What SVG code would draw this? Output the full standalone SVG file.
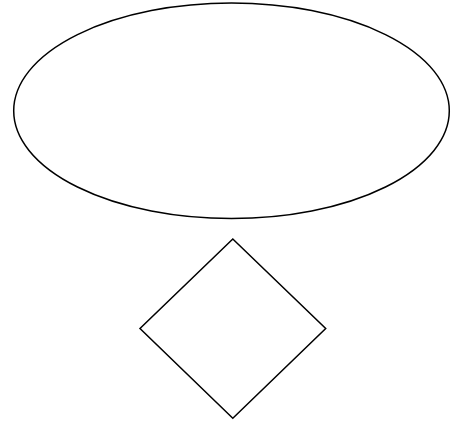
<svg xmlns="http://www.w3.org/2000/svg" width="460" height="423" viewBox="0 0 460 423">
<style>
.shape{fill:#ffffff;stroke:#000000;stroke-width:1.5}
</style>
<rect width="460" height="423" fill="#ffffff"/>
<g id="node-ellipse">
<ellipse class="shape" cx="231.5" cy="110.8" rx="217.8" ry="107.8"/>
</g>
<g id="node-diamond">
<polygon class="shape" points="232.8,239 325.7,328.5 232.8,418.3 140,328.5"/>
</g>
<g id="connectors"></g>
</svg>
